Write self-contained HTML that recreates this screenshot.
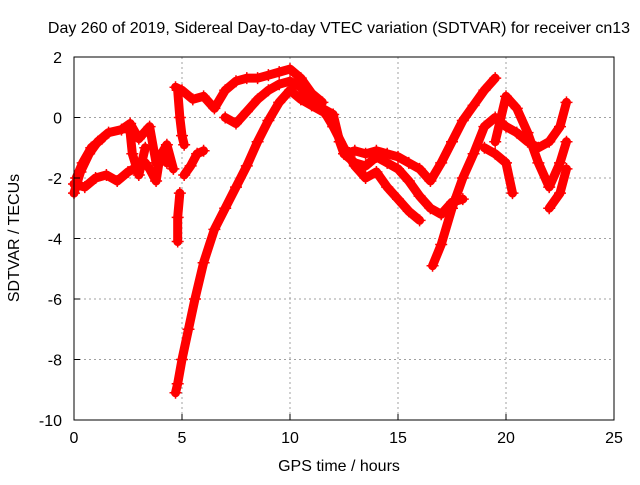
<!DOCTYPE html>
<html><head><meta charset="utf-8"><style>
body{margin:0;background:#fff;}
svg text{font-family:"Liberation Sans",sans-serif;font-size:16px;fill:#000;}
</style></head><body>
<svg width="640" height="480" viewBox="0 0 640 480">
<rect width="640" height="480" fill="#fff"/>
<g id="grid"></g>
<g id="series"></g>
<rect x="74" y="57" width="540" height="363" fill="none" stroke="#000" stroke-width="1"/>
<g id="ticks"></g>
<text x="339" y="33" text-anchor="middle">Day 260 of 2019, Sidereal Day-to-day VTEC variation (SDTVAR) for receiver cn13</text>
<text x="339" y="471" text-anchor="middle">GPS time / hours</text>
<text x="0" y="0" text-anchor="middle" transform="translate(19,238) rotate(-90)">SDTVAR / TECUs</text>
</svg>
<script>
const xTicks=[0,5,10,15,20,25];
const yTicks=[2,0,-2,-4,-6,-8,-10];
const s1=[[0,-2.5],[0.3,-1.8],[0.7,-1.2],[1.1,-0.8],[1.6,-0.5],[2.2,-0.4],[2.6,-0.2],[3.0,-0.7],[3.5,-0.3],[3.8,-1.5],[4.3,-0.9],[4.6,-1.7]];
const s1b=[[0.1,-2.0],[0.4,-1.5],[0.8,-1.0],[1.3,-0.7]];
const s2=[[0,-2.2],[0.5,-2.3],[1,-2.0],[1.5,-1.9],[2,-2.1],[2.5,-1.8],[3,-1.6],[3.3,-1.5],[3.5,-1.7],[3.8,-2.1],[4,-1.2],[4.3,-1.5]];
const s2b=[[2.6,-0.5],[2.7,-1.2],[3.0,-1.9],[3.3,-1.0]];
const s3=[[4.7,-9.1],[4.8,-8.8],[5,-8],[5.3,-7],[5.6,-6],[6,-4.8],[6.5,-3.7],[7,-3],[7.5,-2.3],[8,-1.6],[8.5,-0.8],[9,-0.1],[9.5,0.5],[10,0.9],[10.5,0.6],[11,0.4],[11.5,0.2]];
const s4=[[4.7,1.0],[5,0.9],[5.5,0.6],[6,0.7],[6.5,0.3],[7,0.9],[7.5,1.2],[8,1.3],[8.5,1.3],[9,1.4],[9.5,1.5],[10,1.6],[10.5,1.3],[11,0.8],[11.5,0.5]];
const s5=[[7,0],[7.5,-0.2],[8,0.2],[8.5,0.6],[9,0.9],[9.5,1.1],[10,1.2],[10.5,1.0],[11,0.5],[11.5,0.3],[12,0.1],[12.3,-0.8],[12.5,-1.2],[13,-1.5],[13.5,-1.6],[14,-1.3],[14.5,-1.5],[15,-1.7],[15.5,-2.1],[16,-2.6],[16.5,-3.0],[17,-3.2],[17.5,-2.8],[18,-2.7]];
const s6=[[11.5,0.3],[12,-0.3],[12.5,-1],[13,-1.6],[13.5,-2.0],[14,-1.8],[14.5,-2.3],[15,-2.7],[15.5,-3.1],[16,-3.4]];
const s7=[[12.5,-1.2],[13,-1.1],[13.5,-1.2],[14,-1.1],[14.5,-1.2],[15,-1.3],[15.5,-1.5],[16,-1.7],[16.5,-2.1],[17,-1.5],[17.5,-0.8],[18,-0.1],[18.5,0.4],[19,0.9],[19.5,1.3]];
const s8=[[16.6,-4.9],[17,-4.2],[17.5,-3],[18,-2],[18.5,-1.2],[19,-0.3],[19.5,0.0],[20,-0.3],[20.5,-0.5],[21,-0.8],[21.5,-1.0],[22,-0.8],[22.5,-0.3],[22.8,0.5]];
const s9=[[19.5,-0.8],[20,0.7],[20.5,0.3],[21,-0.5],[21.5,-1.5],[22,-2.3],[22.5,-1.5],[22.8,-0.8]];
const s10=[[19,-1],[19.5,-1.2],[20,-1.5],[20.3,-2.5]];
const s11=[[22,-3],[22.5,-2.5],[22.8,-1.7]];
const s12=[[5.1,-1.9],[5.4,-1.6],[5.7,-1.2],[6,-1.1]];
const s13=[[4.8,-4.1],[4.8,-3.3],[4.9,-2.5]];
const s14=[[4.8,0.9],[4.9,0.0],[5.0,-0.6],[5.1,-0.9]];
const allSeries=[s1,s1b,s2,s2b,s3,s4,s5,s6,s7,s8,s9,s10,s11,s12,s13,s14];
const NS='http://www.w3.org/2000/svg';
const X=v=>74+v*21.6, Y=v=>57+(2-v)*30.25;
const grid=document.getElementById('grid'),ticks=document.getElementById('ticks'),ser=document.getElementById('series');
function mk(t,a,p){const e=document.createElementNS(NS,t);for(const k in a)e.setAttribute(k,a[k]);p.appendChild(e);return e;}
xTicks.forEach(t=>{
 if(t>0&&t<25){const g=mk('line',{x1:X(t),x2:X(t),y1:57,y2:420,stroke:'#a0a0a0','stroke-dasharray':'2,3'},grid);
 }
 const l=mk('line',{x1:X(t),x2:X(t),y1:420,y2:414,stroke:'#000'},ticks);
 
 const tx=mk('text',{x:X(t),y:443,'text-anchor':'middle'},ticks);tx.textContent=t;
 
});
yTicks.forEach(t=>{
 if(t<2&&t>-10){const g=mk('line',{x1:74,x2:614,y1:Y(t),y2:Y(t),stroke:'#a0a0a0','stroke-dasharray':'2,3'},grid);
 }
 const l=mk('line',{x1:74,x2:80,y1:Y(t),y2:Y(t),stroke:'#000'},ticks);
 
 const tx=mk('text',{x:62,y:Y(t)+6,'text-anchor':'end'},ticks);tx.textContent=t;
 
});
allSeries.forEach(s=>{
 const p=mk('polyline',{points:s.map(d=>X(d[0])+','+Y(d[1])).join(' '),fill:'none',stroke:'#ff0000','stroke-width':9,'stroke-linejoin':'round','stroke-linecap':'round'},ser);
 
 s.forEach(d=>{const m=mk('path',{d:`M${X(d[0])-6},${Y(d[1])}h12M${X(d[0])},${Y(d[1])-6}v12`,stroke:'#ff0000','stroke-width':1.5},ser);
 });
});
</script>
</body></html>
